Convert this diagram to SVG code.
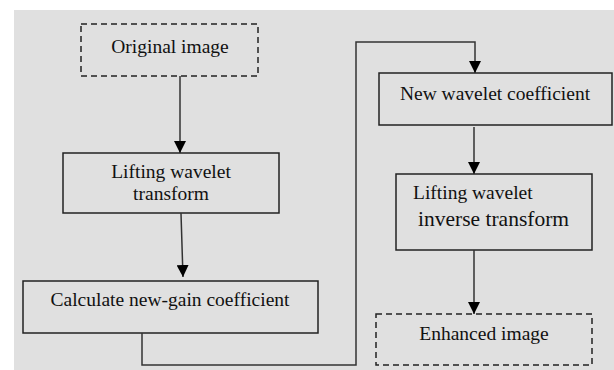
<svg xmlns="http://www.w3.org/2000/svg" width="614" height="370" viewBox="0 0 614 370">
<style>
.box{fill:none;stroke:#222;stroke-width:1.5}
.dash{stroke-dasharray:6,4}
.t{font-size:19.5px;fill:#111;text-anchor:middle}
.c{fill:none;stroke:#333;stroke-width:1.5}
</style>
<defs>
<marker id="ah" viewBox="0 0 12 12" refX="12" refY="6" markerWidth="12" markerHeight="12" markerUnits="userSpaceOnUse" orient="auto">
<path d="M0,0 L12,6 L0,12 z" fill="#000"/>
</marker>
</defs>
<rect width="614" height="370" fill="#fff"/>
<rect x="14" y="10" width="600" height="360" fill="#e0e0e0"/>
<g font-family="'Liberation Serif', 'Times New Roman', 'DejaVu Serif', serif">
<g id="n1"><rect class="box dash" x="81" y="24" width="177" height="52"/><text class="t" x="170" y="53">Original image</text></g>
<g id="n2"><rect class="box" x="63" y="153" width="216" height="60"/><text class="t" x="171" y="178">Lifting wavelet</text><text class="t" x="171" y="200">transform</text></g>
<g id="n3"><rect class="box" x="23" y="281" width="295" height="52"/><text class="t" x="170" y="306">Calculate new-gain coefficient</text></g>
<g id="n4"><rect class="box" x="379" y="73" width="233" height="52"/><text class="t" x="495" y="100">New wavelet coefficient</text></g>
<g id="n5"><rect class="box" x="396" y="174" width="196" height="76"/><text class="t" x="413" y="199" style="text-anchor:start">Lifting wavelet</text><text class="t" x="418" y="226" style="text-anchor:start;font-size:21.5px">inverse transform</text></g>
<g id="n6"><rect class="box dash" x="376" y="314" width="216" height="51"/><text class="t" x="484" y="340">Enhanced image</text></g>
</g>
<g id="connectors">
<path class="c" d="M180,76 L180,153" marker-end="url(#ah)"/>
<path class="c" d="M181,213 L183,277" marker-end="url(#ah)"/>
<path class="c" d="M142,333 L142,365 L356,365 L356,42 L475,42 L475,73" marker-end="url(#ah)"/>
<path class="c" d="M474,127 L474,174" marker-end="url(#ah)"/>
<path class="c" d="M474,250 L474,314" marker-end="url(#ah)"/>
</g>
</svg>
